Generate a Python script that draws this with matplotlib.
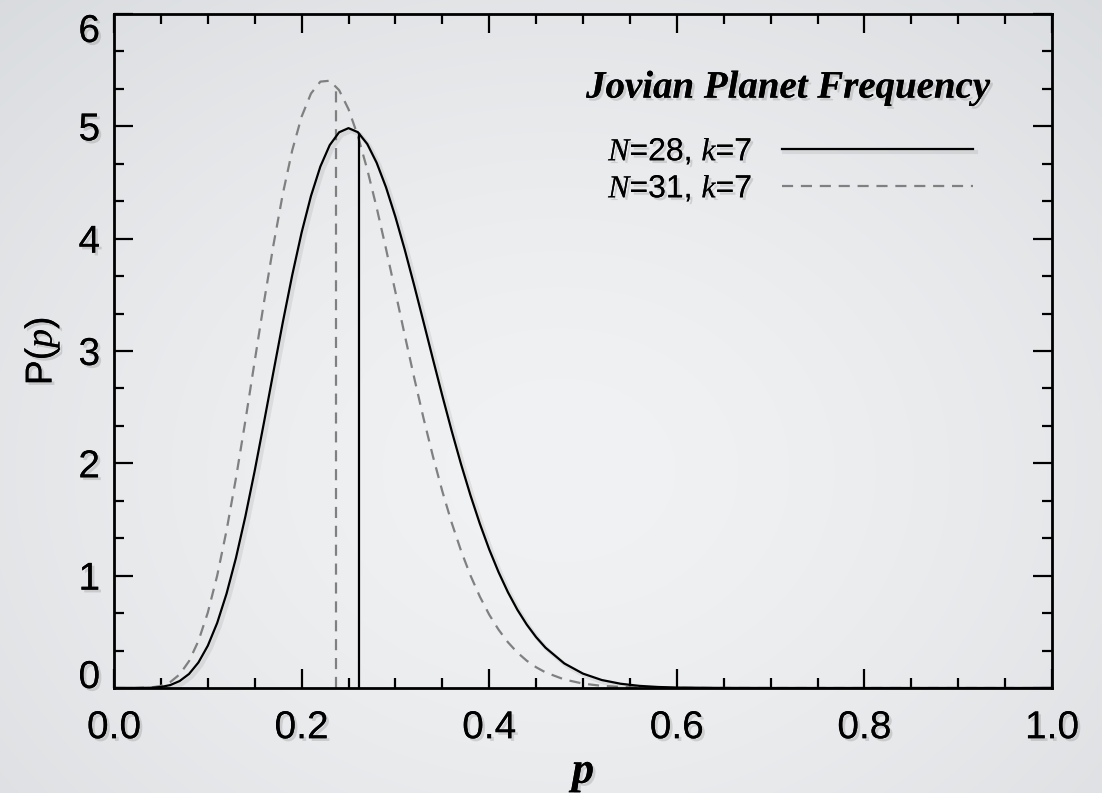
import numpy as np
import matplotlib
matplotlib.use("Agg")
import matplotlib.pyplot as plt
import matplotlib.patheffects as pe
from matplotlib.ticker import MultipleLocator

# ---- data ----
p_vals = [0.00, 0.02, 0.04, 0.05, 0.06, 0.07, 0.08, 0.09, 0.10, 0.11, 0.12, 0.13,
          0.14, 0.15, 0.16, 0.17, 0.18, 0.19, 0.20, 0.21, 0.22, 0.23, 0.24, 0.25,
          0.26, 0.27, 0.28, 0.29, 0.30, 0.31, 0.32, 0.33, 0.34, 0.35, 0.36, 0.37,
          0.38, 0.39, 0.40, 0.41, 0.42, 0.43, 0.44, 0.45, 0.46, 0.48, 0.50, 0.52,
          0.54, 0.56, 0.58, 0.60, 0.64, 0.70, 0.80, 0.90, 1.00]
dens_n28 = [0.000, 0.000, 0.002, 0.009, 0.026, 0.062, 0.125, 0.227, 0.376, 0.579, 0.840, 1.157,
            1.525, 1.933, 2.369, 2.815, 3.257, 3.675, 4.054, 4.380, 4.642, 4.833, 4.947, 4.984,
            4.948, 4.843, 4.676, 4.457, 4.194, 3.901, 3.585, 3.258, 2.928, 2.603, 2.289, 1.992,
            1.716, 1.463, 1.234, 1.031, 0.852, 0.697, 0.565, 0.453, 0.359, 0.219, 0.128, 0.071,
            0.038, 0.019, 0.009, 0.004, 0.001, 0.000, 0.000, 0.000, 0.000]
dens_n31 = [0.000, 0.000, 0.005, 0.019, 0.053, 0.121, 0.239, 0.419, 0.671, 1.000, 1.403, 1.867,
            2.376, 2.910, 3.440, 3.945, 4.400, 4.786, 5.086, 5.292, 5.398, 5.406, 5.322, 5.153,
            4.914, 4.616, 4.277, 3.909, 3.526, 3.140, 2.763, 2.401, 2.063, 1.752, 1.471, 1.221,
            1.002, 0.814, 0.653, 0.519, 0.407, 0.316, 0.243, 0.185, 0.139, 0.076, 0.039, 0.019,
            0.009, 0.004, 0.002, 0.001, 0.000, 0.000, 0.000, 0.000, 0.000]
median_n28 = 0.2614
median_n31 = 0.2371
median_h28 = 4.93
median_h31 = 5.36
labels = ["$N$=28, $k$=7", "$N$=31, $k$=7"]
title = "Jovian Planet Frequency"
x_ticks = [0.0, 0.2, 0.4, 0.6, 0.8, 1.0]
y_ticks = [0, 1, 2, 3, 4, 5, 6]

plt.rcParams['font.family'] = ['Liberation Sans', 'DejaVu Sans']
plt.rcParams['mathtext.fontset'] = 'custom'
plt.rcParams['mathtext.it'] = 'Liberation Serif:italic'
plt.rcParams['mathtext.rm'] = 'Liberation Sans'

W, H = 1102, 793
fig = plt.figure(figsize=(W / 100, H / 100), dpi=100)

# background gradient
bg = fig.add_axes([0, 0, 1, 1], zorder=-10)
yy, xx = np.mgrid[0:H, 0:W]
r = np.sqrt(((xx - 560) / 700.0) ** 2 + ((yy - 470) / 560.0) ** 2)
r = np.clip(r, 0, 1.2)
c0 = np.array([0.945, 0.949, 0.955])
c1 = np.array([0.845, 0.855, 0.868])
t = (r / 1.2) ** 1.6
img = c0[None, None, :] * (1 - t[..., None]) + c1[None, None, :] * t[..., None]
bg.imshow(img, aspect='auto', extent=[0, 1, 0, 1], origin='upper')
bg.axis('off')

ax = fig.add_axes([114 / W, 1 - 688 / H, (1052 - 114) / W, (688 - 14) / H])
ax.set_facecolor('none')

shadow = [pe.withSimplePatchShadow(offset=(2, -2), shadow_rgbFace='k', alpha=0.12), pe.Normal()]
lshadow = [pe.SimpleLineShadow(offset=(2, -2), shadow_color='k', alpha=0.07, linewidth=3), pe.Normal()]

dash = (0, (5, 3.5))
ax.plot(p_vals, dens_n28, color='black', lw=1.6, label=labels[0], zorder=3,
        path_effects=lshadow, solid_joinstyle='round')
ax.plot(p_vals, dens_n31, color='#808080', lw=1.6, ls=dash, label=labels[1], zorder=2)
ax.plot([median_n28, median_n28], [0, median_h28], color='black', lw=1.6, zorder=3)
ax.plot([median_n31, median_n31], [0, median_h31], color='#808080', lw=1.6, ls=dash, zorder=2)

ax.set_xlim(0, 1)
ax.set_ylim(0, 6)
ax.set_xticks(x_ticks)
ax.set_xticklabels(["%.1f" % v for v in x_ticks])
ax.set_yticks(y_ticks)
ax.set_yticklabels([str(v) for v in y_ticks])
ax.xaxis.set_minor_locator(MultipleLocator(0.05))
ax.yaxis.set_minor_locator(MultipleLocator(1 / 3))
ax.tick_params(which='both', direction='in', top=True, right=True, width=1.6, color='black')
ax.tick_params(which='major', length=14)
ax.tick_params(which='minor', length=7)
ax.tick_params(axis='x', which='major', labelsize=28, pad=16)
ax.tick_params(axis='y', which='major', labelsize=28, pad=10)
for s in ax.spines.values():
    s.set_linewidth(2.0)
for lab in ax.get_xticklabels() + ax.get_yticklabels():
    lab.set_path_effects(shadow)
ylabs = ax.get_yticklabels()
ylabs[0].set_verticalalignment('baseline')
ylabs[-1].set_verticalalignment('top')

ax.set_xlabel("p", fontsize=32, labelpad=4, family='Liberation Serif', style='italic',
              weight='bold', path_effects=shadow)
ax.set_ylabel("P($p$)", fontsize=27, labelpad=12, path_effects=shadow)

ax.text(0.934, 0.890, title, transform=ax.transAxes, ha='right', va='center',
        fontsize=28, family='Liberation Serif', style='italic', weight='bold',
        path_effects=shadow)

leg = ax.legend(loc='upper right', bbox_to_anchor=(0.916, 0.817), frameon=False,
                fontsize=23, markerfirst=False, handlelength=6.0, handletextpad=0.9,
                labelspacing=0.22, borderaxespad=0, borderpad=0)
for txt in leg.get_texts():
    txt.set_path_effects(shadow)

fig.savefig("out.png", dpi=100)
